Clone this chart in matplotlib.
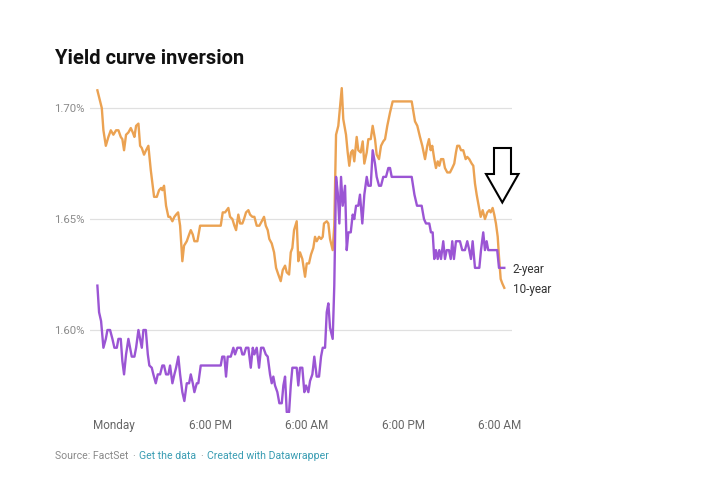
import matplotlib
matplotlib.use('Agg')
import matplotlib.pyplot as plt
from matplotlib.patches import Polygon

plt.rcParams['font.family'] = ['Roboto', 'DejaVu Sans']

# time in hours since Monday 00:00
t10 = [3.92, 4.47, 4.67, 4.97, 5.29, 5.59, 5.91, 6.25, 6.54, 6.83, 7.03, 7.24, 7.49, 7.78, 8.08, 8.33,
       8.53, 8.74, 9.03, 9.24, 9.45, 9.73, 9.98, 10.27, 10.57, 10.98, 11.32, 11.60, 11.85, 12.01, 12.22,
       12.47, 12.76, 12.97, 13.26, 13.51, 13.72, 13.97, 14.22, 14.50, 14.71, 15.05, 15.34, 15.55, 15.80,
       16.00, 16.37, 16.71, 19.28, 19.53, 19.82, 20.03, 20.23, 20.44, 20.73, 20.98, 21.19, 21.47, 21.69,
       21.97, 22.18, 22.43, 22.72, 22.93, 23.22, 23.47, 23.76, 24.09, 24.39, 24.67, 24.89, 25.13, 25.33,
       25.63, 25.92, 26.17, 26.45, 26.75, 27.00, 27.29, 27.50, 27.79, 28.00, 28.20, 28.41, 28.74, 28.94,
       29.15, 29.44, 29.78, 29.99, 30.27, 30.52, 30.81, 31.02, 31.23, 31.52, 31.77, 31.98, 32.14, 32.48,
       32.68, 32.89, 33.22, 33.42, 33.64, 33.92, 34.35, 34.54, 34.88, 35.09, 35.29, 35.50, 35.71, 35.91,
       36.21, 36.41, 36.71, 36.96, 37.16, 37.46, 37.66, 37.96, 38.20, 38.49, 38.70, 38.99, 39.24, 39.52,
       39.74, 40.02, 40.36, 40.69, 43.06, 43.47, 43.76, 44.09, 44.38, 44.72, 45.00, 45.21, 45.42, 45.62,
       45.87, 46.08, 46.30, 46.50, 46.71, 46.99, 47.20, 47.49, 47.83, 48.11, 48.36, 48.57, 48.73, 48.98,
       49.20, 49.48, 49.78, 49.98, 50.23, 50.53, 50.73, 50.94, 51.15, 51.35, 51.65, 51.90, 52.18, 52.47,
       52.72, 52.89, 53.14, 53.34, 53.55, 53.77, 53.93, 54.14, 54.34, 54.59]
y10 = [1.708, 1.700, 1.690, 1.683, 1.687, 1.690, 1.688, 1.690, 1.690, 1.687, 1.686, 1.681, 1.688, 1.689,
       1.691, 1.689, 1.687, 1.692, 1.693, 1.683, 1.682, 1.679, 1.681, 1.683, 1.672, 1.660, 1.660, 1.663,
       1.664, 1.663, 1.665, 1.656, 1.651, 1.651, 1.649, 1.651, 1.652, 1.653, 1.647, 1.631, 1.638, 1.640,
       1.643, 1.645, 1.643, 1.640, 1.640, 1.647, 1.647, 1.653, 1.653, 1.654, 1.655, 1.651, 1.650, 1.647,
       1.645, 1.652, 1.648, 1.648, 1.650, 1.653, 1.654, 1.652, 1.651, 1.651, 1.647, 1.647, 1.649, 1.651,
       1.647, 1.645, 1.641, 1.639, 1.635, 1.628, 1.625, 1.622, 1.627, 1.629, 1.626, 1.625, 1.635, 1.637,
       1.645, 1.649, 1.631, 1.635, 1.632, 1.624, 1.630, 1.630, 1.634, 1.637, 1.642, 1.640, 1.642, 1.641,
       1.642, 1.648, 1.649, 1.648, 1.641, 1.636, 1.647, 1.688, 1.692, 1.709, 1.695, 1.688, 1.680, 1.674,
       1.680, 1.681, 1.676, 1.687, 1.681, 1.680, 1.685, 1.675, 1.680, 1.686, 1.686, 1.692, 1.686, 1.679,
       1.677, 1.683, 1.685, 1.686, 1.692, 1.698, 1.703, 1.703, 1.694, 1.692, 1.687, 1.683, 1.677, 1.683,
       1.686, 1.681, 1.683, 1.677, 1.673, 1.676, 1.674, 1.677, 1.677, 1.673, 1.671, 1.671, 1.673, 1.675,
       1.680, 1.683, 1.683, 1.681, 1.681, 1.677, 1.678, 1.677, 1.675, 1.674, 1.666, 1.661, 1.657, 1.651,
       1.654, 1.650, 1.653, 1.654, 1.653, 1.655, 1.652, 1.648, 1.642, 1.633, 1.623, 1.621, 1.619]

t2 = [3.92, 4.13, 4.38, 4.67, 4.97, 5.17, 5.50, 5.79, 6.04, 6.34, 6.54, 6.83, 7.03, 7.24, 7.49, 7.78,
      7.99, 8.20, 8.53, 8.74, 9.03, 9.24, 9.45, 9.65, 9.95, 10.20, 10.39, 10.69, 10.89, 11.19, 11.44,
      11.73, 12.01, 12.22, 12.47, 12.76, 12.97, 13.26, 13.51, 13.72, 14.00, 14.22, 14.50, 14.75, 15.05,
      15.34, 15.55, 15.80, 16.00, 16.30, 16.49, 16.79, 19.28, 19.47, 19.73, 19.94, 20.15, 20.53, 20.85,
      21.06, 21.35, 21.77, 21.97, 22.18, 22.43, 22.72, 23.02, 23.27, 23.47, 23.76, 24.05, 24.30, 24.59,
      24.89, 25.13, 25.42, 25.63, 25.83, 26.04, 26.33, 26.58, 26.88, 27.08, 27.29, 27.50, 27.79, 28.00,
      28.20, 28.74, 28.94, 29.15, 29.44, 29.69, 29.90, 30.19, 30.40, 30.69, 30.93, 31.23, 31.52, 31.77,
      31.98, 32.27, 32.48, 32.68, 32.89, 33.22, 33.42, 33.64, 33.85, 34.05, 34.26, 34.47, 34.76, 34.97,
      35.17, 35.47, 35.71, 35.91, 36.13, 36.41, 36.62, 36.91, 37.16, 37.46, 37.66, 37.96, 38.20, 38.49,
      38.70, 38.99, 39.24, 39.52, 39.86, 40.15, 40.36, 40.57, 43.06, 43.40, 43.72, 44.30, 44.59, 44.84,
      45.25, 45.46, 45.67, 45.87, 46.08, 46.30, 46.50, 46.71, 46.99, 47.20, 47.42, 47.70, 47.92, 48.11,
      48.32, 48.57, 49.07, 49.35, 49.69, 49.98, 50.23, 50.44, 50.65, 50.94, 51.48, 51.69, 51.97, 52.18,
      52.39, 52.59, 53.71, 53.93, 54.59]
y2 = [1.620, 1.608, 1.604, 1.592, 1.596, 1.600, 1.600, 1.596, 1.592, 1.592, 1.596, 1.596, 1.586, 1.580,
      1.589, 1.596, 1.592, 1.588, 1.588, 1.592, 1.600, 1.596, 1.592, 1.600, 1.600, 1.589, 1.584, 1.583,
      1.580, 1.576, 1.580, 1.580, 1.584, 1.584, 1.580, 1.580, 1.584, 1.576, 1.580, 1.583, 1.588, 1.580,
      1.572, 1.568, 1.576, 1.576, 1.580, 1.576, 1.572, 1.576, 1.576, 1.584, 1.584, 1.588, 1.588, 1.579,
      1.588, 1.588, 1.592, 1.589, 1.592, 1.592, 1.589, 1.589, 1.592, 1.592, 1.583, 1.592, 1.589, 1.592,
      1.583, 1.592, 1.592, 1.589, 1.588, 1.580, 1.576, 1.579, 1.575, 1.572, 1.567, 1.567, 1.575, 1.579,
      1.563, 1.563, 1.575, 1.583, 1.583, 1.575, 1.583, 1.583, 1.572, 1.575, 1.572, 1.577, 1.580, 1.588,
      1.579, 1.579, 1.588, 1.592, 1.592, 1.608, 1.612, 1.601, 1.596, 1.620, 1.669, 1.662, 1.648, 1.669,
      1.656, 1.665, 1.636, 1.644, 1.644, 1.652, 1.650, 1.656, 1.656, 1.661, 1.648, 1.661, 1.669, 1.665,
      1.665, 1.681, 1.675, 1.669, 1.665, 1.665, 1.669, 1.669, 1.673, 1.673, 1.669, 1.669, 1.661, 1.656,
      1.656, 1.650, 1.648, 1.648, 1.644, 1.644, 1.632, 1.636, 1.632, 1.636, 1.632, 1.640, 1.632, 1.636,
      1.636, 1.632, 1.640, 1.632, 1.640, 1.640, 1.636, 1.636, 1.640, 1.636, 1.632, 1.640, 1.628, 1.628,
      1.636, 1.644, 1.636, 1.640, 1.636, 1.636, 1.628, 1.628]

yticks = [1.60, 1.65, 1.70]
ytick_labels = ['1.60%', '1.65%', '1.70%']
xticks = [6, 18, 30, 42, 54]
xtick_labels = ['Monday', '6:00 PM', '6:00 AM', '6:00 PM', '6:00 AM']
series_labels = ['10-year', '2-year']

ORANGE = '#eba252'
PURPLE = '#9b55d4'

W, H = 704, 499
fig = plt.figure(figsize=(W / 100, H / 100), dpi=100)
fig.patch.set_facecolor('white')
ax = fig.add_axes([90 / W, 1 - 413 / H, 422 / W, 326 / H])
ax.set_xlim(3.0, 55.55)
ax.set_ylim(1.5626, 1.7095)

for y in yticks:
    ax.axhline(y, color='#e0e0e0', lw=0.9, zorder=0)

ax.plot(t10, y10, color=ORANGE, lw=1.7, solid_joinstyle='round', zorder=3)
ax.plot(t2, y2, color=PURPLE, lw=1.7, solid_joinstyle='round', zorder=4)

for s in ax.spines.values():
    s.set_visible(False)
ax.set_yticks(yticks)
ax.set_yticklabels(ytick_labels)
ax.tick_params(axis='y', length=0, pad=4, labelcolor='#8a8a8a', labelsize=8.2)
ax.set_xticks(xticks)
ax.set_xticklabels(xtick_labels)
ax.tick_params(axis='x', length=0, pad=4.5, labelcolor='#666666', labelsize=8.5)

ax.annotate(series_labels[1], (t2[-1], y2[-1]), xytext=(6, -1.5), textcoords='offset points',
            va='center', ha='left', fontsize=8.5, color='#333333', annotation_clip=False)
ax.annotate(series_labels[0], (t10[-1], y10[-1]), xytext=(6, -1.2), textcoords='offset points',
            va='center', ha='left', fontsize=8.5, color='#333333', annotation_clip=False)

# arrow annotation
arrow_px = [(494, 148), (511, 148), (511, 174), (518.5, 174), (502.3, 202.5), (486, 174), (494, 174)]
arrow = Polygon([(x / W, 1 - y / H) for x, y in arrow_px], closed=True, facecolor='white',
                edgecolor='black', lw=1.5, transform=fig.transFigure, zorder=10)
fig.patches.append(arrow)

fig.text(55 / W, 1 - 58.5 / H, 'Yield curve inversion', fontsize=14.5, fontweight='bold',
         color='#111111', va='center', ha='left')

# footer
renderer = fig.canvas.get_renderer()
pieces = [('Source: FactSet', '#8a8a8a'), ('·', '#8a8a8a'), ('Get the data', '#3a9db3'),
          ('·', '#8a8a8a'), ('Created with Datawrapper', '#3a9db3')]
x = 55
for txt, col in pieces:
    t = fig.text(x / W, 1 - 456 / H, txt, fontsize=7.6, color=col, va='center', ha='left')
    bb = t.get_window_extent(renderer)
    x = bb.x1 + 4

fig.savefig('out.png', dpi=100, facecolor='white')
